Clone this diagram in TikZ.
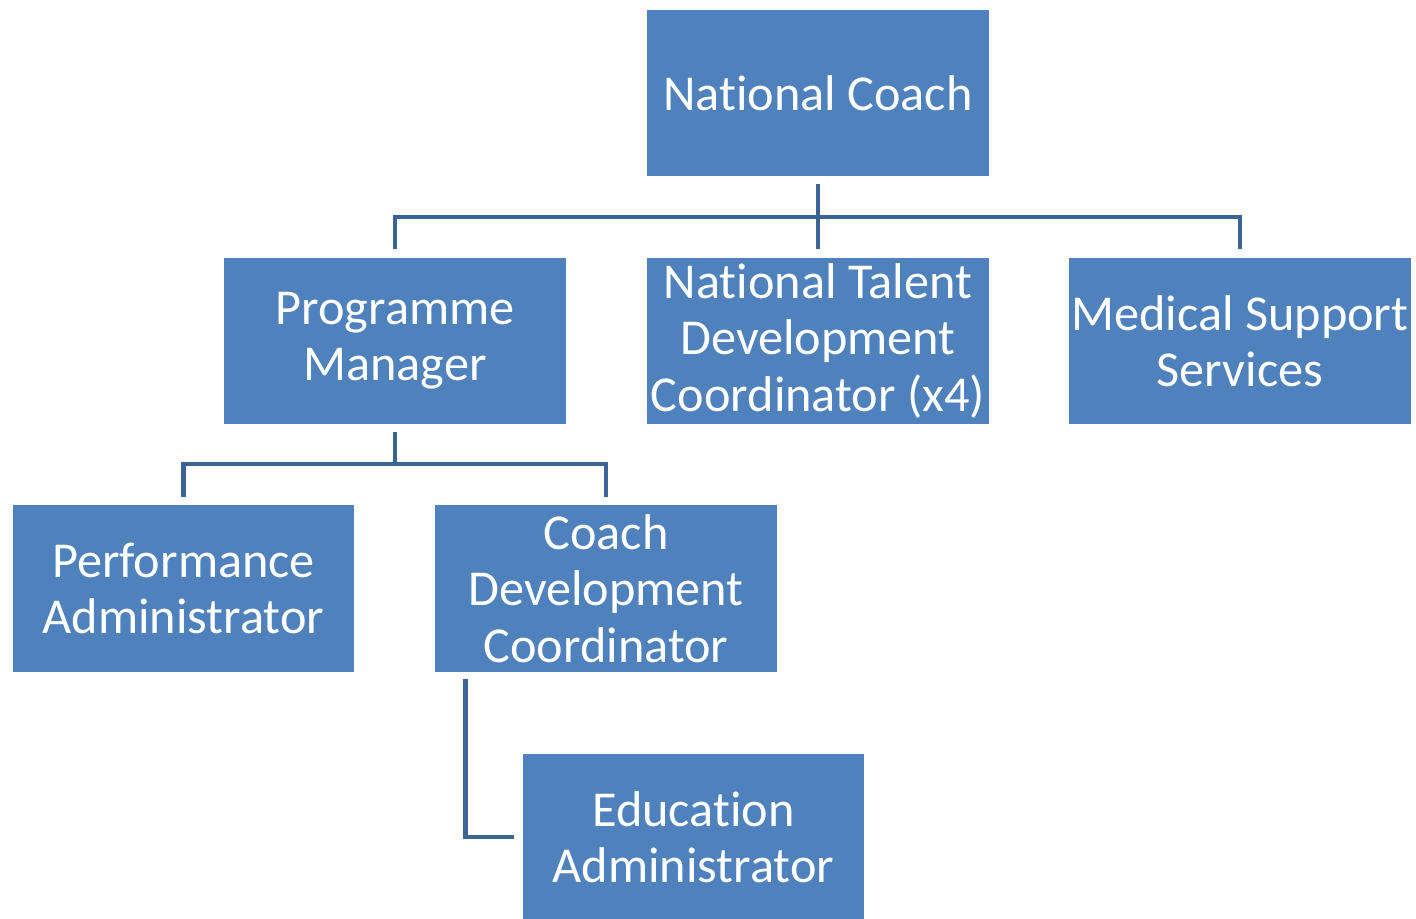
\documentclass[tikz,border=0pt]{standalone}
\usepackage{fontspec}
\setmainfont[Ligatures=NoCommon]{Carlito}
\usepackage{tikz}
\definecolor{boxblue}{HTML}{4F81BD}
\definecolor{linkblue}{HTML}{3B6496}
\tikzset{
  post/.style = {shape=rectangle, draw=white, line width=1.2pt,
                 fill=boxblue, text=white, align=center,
                 minimum width=6.88cm, minimum height=3.38cm,
                 inner sep=0pt, font=\fontsize{28.6}{32}\selectfont},
  link/.style = {draw=linkblue, line width=2.8pt,
                 shorten <=0.1cm, shorten >=0.12cm}
}
\begin{document}
\begin{tikzpicture}
  \useasboundingbox[fill=white] (0,0) rectangle (28.32,-18.36);
  \begin{scope}
  \clip (0,0) rectangle (28.32,-18.36);
  % posts
  \node [post] (coach)  at (16.36,-1.86)  {National Coach};
  \node [post] (prog)   at (7.90,-6.82)   {Programme\\Manager};
  \node [post] (talent) at (16.36,-6.82)  {National Talent\\Development\\Coordinator (x4)};
  \node [post] (medic)  at (24.80,-6.82)  {Medical Support\\Services};
  \node [post] (perf)   at (3.67,-11.77)  {Performance\\Administrator};
  \node [post] (cdev)   at (12.12,-11.77) {Coach\\Development\\Coordinator};
  \node [post] (edu)    at (13.87,-16.74) {Education\\Administrator};
  % bus lines
  \coordinate (bus1) at (16.36,-4.34);
  \coordinate (bus2) at (7.90,-9.28);
  \draw [link] (coach.south) -- (talent.north);
  \draw [link, shorten <=0pt] (bus1) -| (prog.north);
  \draw [link, shorten <=0pt] (bus1) -| (medic.north);
  \draw [link, shorten >=0pt] (prog.south) -- (bus2);
  \draw [link, shorten <=0pt] (bus2) -| (perf.north);
  \draw [link, shorten <=0pt] (bus2) -| (cdev.north);
  \draw [link] ([xshift=0.66cm]cdev.south west) |- (edu.west);
  \end{scope}
\end{tikzpicture}
\end{document}
